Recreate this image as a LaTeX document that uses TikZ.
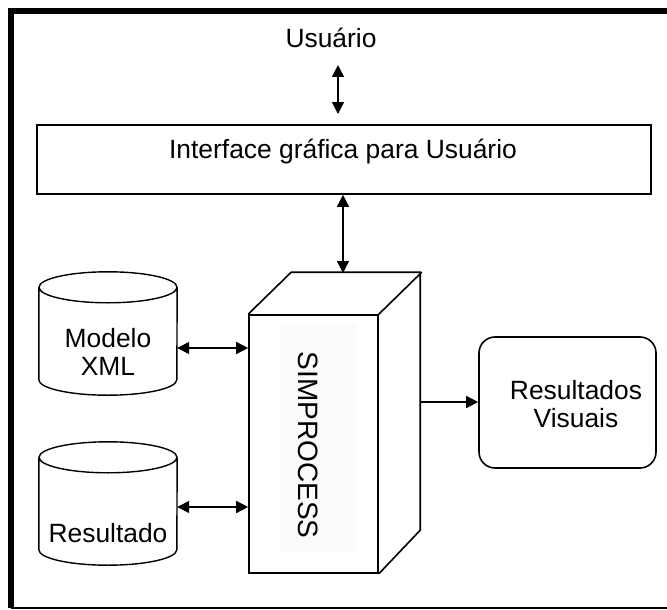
\documentclass[tikz,border=0pt]{standalone}
\usepackage{fontspec}
\setmainfont{Liberation Sans}
\usetikzlibrary{positioning,arrows.meta}

\begin{document}
\begin{tikzpicture}[x=1pt,y=-1pt]
          \tikzset{txt/.style={font=\fontsize{26.4}{28}\selectfont, align=center, inner sep=0pt}}
          \tikzset{caixa/.style={draw, line width=1.6pt, inner sep=0pt}}
          \tikzset{banco/.style={minimum width=138pt, minimum height=123pt, inner sep=0pt}}
          \tikzset{seta/.style={line width=1.4pt, {Triangle[length=12pt,width=12pt]}-{Triangle[length=12pt,width=12pt]}}}
          \useasboundingbox (0,0) rectangle (667,610);

          % moldura
          \draw[line width=6pt] (11,608) -- (11,11) -- (667,11);
          \draw[line width=2pt] (11,608) -- (667,608);

          \node[txt] (usr) at (331,38) {Usuário};
          \node[caixa, minimum width=614pt, minimum height=69pt] (gui) at (344,159.5) {};
          \node[txt] (guitxt) at (343,152) {Interface gráfica para Usuário};

          % cubo
          \node[caixa, minimum width=129pt, minimum height=258pt] (simp) at (313.5,444) {};
          \draw[line width=1.6pt] (simp.north west) -- ++(43,-42) -- ++(129,0) -- ++(0,258) -- (simp.south east)
                (simp.north east) -- ++(43,-42);
          \node[fill=black!1.5, minimum width=76pt, minimum height=230pt] (fundo) at (318,438) {};
          \node[txt, rotate=-90, font=\fontsize{28}{30}\selectfont] (simptxt) at (308,445) {SIMPROCESS};
          \coordinate (topo) at (343,273);
          \coordinate (lado) at (421,402);

          % bancos
          \node[banco] (xml) at (108,333.5) {};
          \node[banco] (res) at (108,503.5) {};
          \foreach \b in {xml,res}
            \draw[line width=1.4pt] ([yshift=-15.5pt]\b.north) ellipse [x radius=69, y radius=15.5]
                  ([yshift=-15.5pt]\b.north west) -- ([yshift=15.5pt]\b.south west)
                  arc [start angle=180, end angle=0, x radius=69, y radius=15.5]
                  -- ([yshift=-15.5pt]\b.north east);
          \node[txt] (xmltxt) at (108,352) {Modelo\\XML};
          \node[txt] (restxt) at (108,533) {Resultado};

          \node[caixa, rounded corners=16pt, minimum width=177pt, minimum height=131pt] (vis) at (567.5,402.5) {};
          \node[txt] (vistxt) at (576,404) {Resultados\\Visuais};

          \draw[seta] (338,65) -- (338,114);
          \draw[seta] (gui.south -| topo) -- (topo);
          \draw[seta] (xml.east |- 0,348) -- (simp.west |- 0,348);
          \draw[seta] (res.east |- 0,507) -- (simp.west |- 0,507);
          \draw[line width=1.4pt, -{Triangle[length=12pt,width=12pt]}] (lado) -- (vis.west |- lado);
        \end{tikzpicture}
\end{document}
